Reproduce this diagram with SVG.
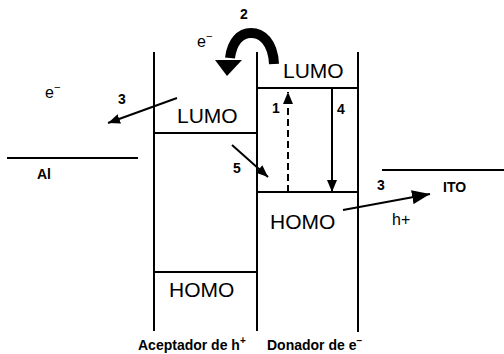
<svg xmlns="http://www.w3.org/2000/svg" width="504" height="354" viewBox="0 0 504 354">
<style>
.ln{stroke:#000;stroke-width:2;fill:none}
.lv{font-family:"Liberation Sans",Arial,sans-serif;font-size:21px;fill:#000}
.num{font-family:"Liberation Sans",Arial,sans-serif;font-size:14px;font-weight:bold;fill:#000}
.lab{font-family:"Liberation Sans",Arial,sans-serif;font-size:14px;font-weight:bold;fill:#000}
.el{font-family:"Liberation Sans",Arial,sans-serif;font-size:16px;fill:#000}
.ar{stroke:#000;stroke-width:2;fill:none}
</style>
<defs>
<marker id="ah" markerWidth="12" markerHeight="10" refX="12" refY="5" orient="auto" markerUnits="userSpaceOnUse"><path d="M0,0 L12,5 L0,10 z" fill="#000" stroke="none"/></marker>
<marker id="ahb" markerWidth="18" markerHeight="14" refX="18" refY="7" orient="auto" markerUnits="userSpaceOnUse"><path d="M0,0 L18,7 L0,14 z" fill="#000" stroke="none"/></marker>
</defs>
<rect width="504" height="354" fill="#fff"/>
<g id="aceptador">
<line class="ln" x1="154" y1="52" x2="154" y2="331"/>
<line class="ln" x1="257" y1="52" x2="257" y2="331"/>
<line class="ln" x1="154" y1="133" x2="257" y2="133"/>
<line class="ln" x1="154" y1="272" x2="257" y2="272"/>
<text class="lv" x="177" y="123">LUMO</text>
<text class="lv" x="169" y="297">HOMO</text>
<text class="lab" x="138" y="350" font-size="15">Aceptador de h<tspan dy="-6" font-size="10">+</tspan></text>
</g>
<g id="donador">
<line class="ln" x1="358" y1="52" x2="358" y2="332"/>
<line class="ln" x1="257" y1="88" x2="358" y2="88"/>
<line class="ln" x1="257" y1="192" x2="358" y2="192"/>
<text class="lv" x="283" y="78">LUMO</text>
<text class="lv" x="270" y="229">HOMO</text>
<text class="lab" x="267" y="350">Donador de e<tspan dy="-6" font-size="10">−</tspan></text>
</g>
<g id="al">
<line class="ln" x1="7" y1="158" x2="138" y2="158"/>
<text class="lab" x="37" y="179">Al</text>
</g>
<g id="ito">
<line class="ln" x1="382" y1="170" x2="504" y2="170"/>
<text class="lab" x="443" y="192" font-size="13">ITO</text>
</g>
<g id="connectors">
<path d="M274 64 C273 42 262 33 251 33 C240 33 232 42 230 58" stroke="#000" stroke-width="10" fill="none"/>
<polygon points="215,60 242,60 227,76" fill="#000"/>
<line class="ar" x1="288" y1="192" x2="288" y2="92" stroke-dasharray="7,4" marker-end="url(#ah)"/>
<line class="ar" x1="332" y1="88" x2="332" y2="192" marker-end="url(#ah)"/>
<line class="ar" x1="177" y1="98" x2="108" y2="123" marker-end="url(#ah)"/>
<line class="ar" x1="232" y1="145" x2="268" y2="177" marker-end="url(#ah)"/>
<line class="ar" x1="343" y1="210" x2="430" y2="194" marker-end="url(#ahb)"/>
</g>
<g id="labels">
<text class="num" x="240" y="19">2</text>
<text class="el" x="197" y="47">e<tspan dy="-7" font-size="11">−</tspan></text>
<text class="el" x="45" y="98">e<tspan dy="-7" font-size="11">−</tspan></text>
<text class="num" x="118" y="104">3</text>
<text class="num" x="272" y="113">1</text>
<text class="num" x="337" y="114">4</text>
<text class="num" x="233" y="173">5</text>
<text class="num" x="377" y="190">3</text>
<text class="el" x="392" y="225" font-size="19">h+</text>
</g>
</svg>
